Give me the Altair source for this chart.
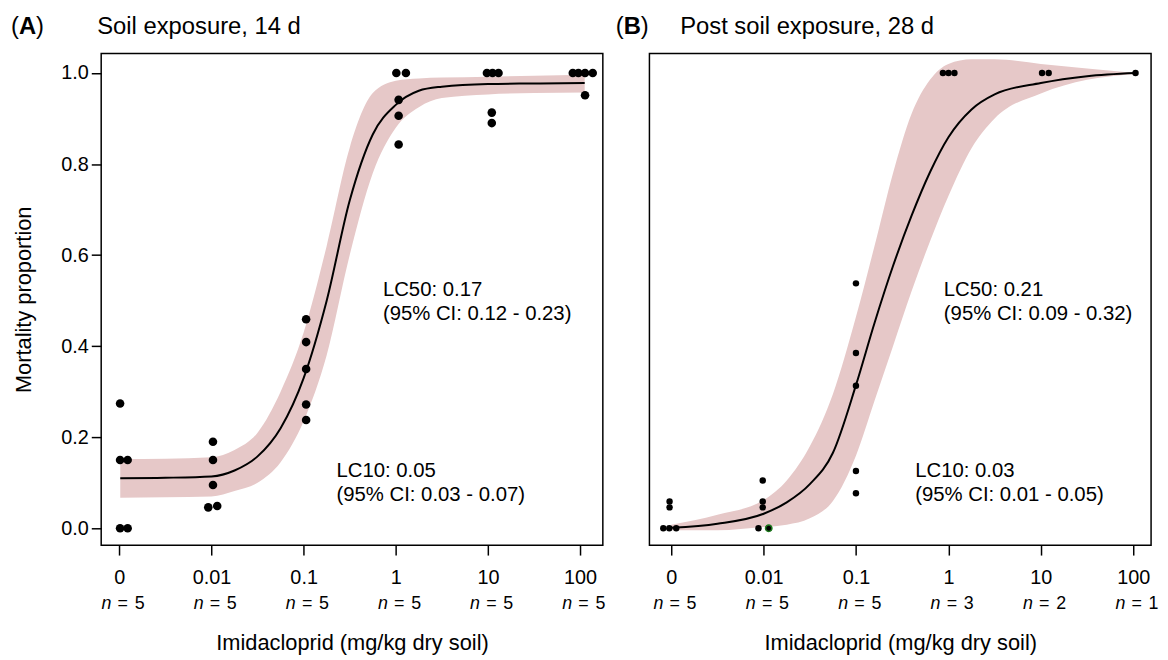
import altair as alt
import pandas as pd

# ---------------- data ----------------
# x positions are log10(dose); the untreated control ("0") is drawn at 10^-3
tick_pos = [-3, -2, -1, 0, 1, 2]
tick_lab = ["0", "0.01", "0.1", "1", "10", "100"]
y_ticks = [0.0, 0.2, 0.4, 0.6, 0.8, 1.0]
n_A = [5, 5, 5, 5, 5, 5]
n_B = [5, 5, 5, 3, 2, 1]

# Panel A observations (log10 dose as plotted, mortality proportion)
A_x = [-2.992, -2.992, -2.910, -2.992, -2.910,
       -1.984, -1.984, -1.984, -2.035, -1.938,
       -0.973, -0.973, -0.973, -0.973, -0.973,
       0.006, 0.110, 0.031, 0.031, 0.031,
       0.989, 1.050, 1.115, 1.042, 1.042,
       1.921, 1.982, 2.054, 2.137, 2.054]
A_y = [0.274, 0.150, 0.150, 0.0, 0.0,
       0.190, 0.150, 0.095, 0.046, 0.049,
       0.459, 0.409, 0.350, 0.272, 0.238,
       1.0, 1.0, 0.941, 0.906, 0.843,
       1.0, 1.0, 1.0, 0.913, 0.890,
       1.0, 1.0, 1.0, 1.0, 0.951]

# Panel B observations
B_x = [-3.086, -3.021, -2.946, -3.018, -3.018,
       -2.010, -2.010, -2.010, -2.056, -1.945,
       -1.001, -1.001, -1.001, -1.001, -1.001,
       -0.060, 0.001, 0.065,
       1.013, 1.085,
       2.025]
B_y = [0.0, 0.0, 0.0, 0.059, 0.046,
       0.105, 0.059, 0.046, 0.0, 0.0,
       0.538, 0.385, 0.313, 0.126, 0.077,
       1.0, 1.0, 1.0,
       1.0, 1.0,
       1.0]
B_edge = [0, 0, 0, 0, 0,
          0, 0, 0, 0, 1,
          0, 0, 0, 0, 0,
          0, 0, 0,
          0, 0,
          0]

# Fitted curve and 95% band
A_cx = [-2.99, -2.5, -2.0, -1.75, -1.5, -1.25, -1.0, -0.75, -0.5, -0.25,
        0.0, 0.25, 0.5, 1.0, 1.5, 2.05]
A_fit = [0.110, 0.111, 0.114, 0.127, 0.158, 0.220, 0.330, 0.500, 0.720, 0.865,
         0.930, 0.961, 0.970, 0.976, 0.977, 0.978]
A_lo = [0.067, 0.068, 0.070, 0.082, 0.100, 0.145, 0.235, 0.380, 0.600, 0.780,
        0.880, 0.925, 0.945, 0.953, 0.956, 0.957]
A_hi = [0.152, 0.153, 0.156, 0.172, 0.210, 0.300, 0.430, 0.620, 0.836, 0.956,
        0.983, 0.988, 0.990, 0.992, 0.994, 0.996]

B_cx = [-3.0, -2.5, -2.0, -1.75, -1.5, -1.25, -1.0, -0.8, -0.6, -0.4, -0.2,
        0.0, 0.25, 0.5, 1.0, 1.5, 2.025]
B_fit = [0.001, 0.010, 0.032, 0.057, 0.097, 0.166, 0.315, 0.451, 0.576, 0.686, 0.782,
         0.859, 0.920, 0.953, 0.978, 0.993, 1.0]
B_lo = [-0.004, -0.004, 0.003, 0.008, 0.022, 0.060, 0.160, 0.280, 0.400, 0.520, 0.630,
        0.730, 0.835, 0.900, 0.955, 0.985, 0.998]
B_hi = [0.008, 0.030, 0.062, 0.105, 0.180, 0.295, 0.465, 0.620, 0.780, 0.910, 0.985,
        1.020, 1.030, 1.030, 1.020, 1.010, 1.0]

# Annotations (left x in log10 dose, baseline y in proportion)
A_ann_x = [-0.14, -0.14, -0.644, -0.644]
A_ann_y = [0.510, 0.457, 0.1126, 0.0603]
A_ann_t = ["LC50: 0.17", "(95% CI: 0.12 - 0.23)", "LC10: 0.05", "(95% CI: 0.03 - 0.07)"]
B_ann_x = [-0.05, -0.05, -0.36, -0.36]
B_ann_y = [0.510, 0.457, 0.1126, 0.0603]
B_ann_t = ["LC50: 0.21", "(95% CI: 0.09 - 0.32)", "LC10: 0.03", "(95% CI: 0.01 - 0.05)"]

tags = ["A", "B"]
titles = ["Soil exposure, 14 d", "Post soil exposure, 28 d"]
x_title = "Imidacloprid (mg/kg dry soil)"
y_title = "Mortality proportion"

# ---------------- styling ----------------
FONT = "Liberation Sans"
BAND = "#E6C8C8"
H = 496
YDOM = [-0.037, 1.043]
TFS = 24
TY = -20
AXT = 22

label_expr = " : ".join(
    [f"datum.value == {p} ? '{l}'" for p, l in zip(tick_pos, tick_lab)]
) + " : ''"


def panel(px, py, edge, cx, fit, lo, hi, ax, ay, at, nvals, xdom, width,
          psize, show_y, tag, title, tag_x, title_x):
    xs = alt.Scale(domain=xdom, nice=False, zero=False)
    ys = alt.Scale(domain=YDOM, nice=False, zero=False)
    xaxis = alt.Axis(values=tick_pos, labelExpr=label_expr, title=x_title,
                     grid=False, domain=False, tickSize=10, tickWidth=1.5,
                     tickColor="black", labelPadding=13, labelFontSize=20,
                     labelColor="black", titleFontSize=AXT, titleFontWeight="normal",
                     titleColor="black", titlePadding=45, labelFont=FONT,
                     titleFont=FONT)
    if show_y:
        yenc = alt.Y("lo:Q", scale=ys, axis=alt.Axis(
            values=y_ticks, format=".1f", title=y_title, grid=False, domain=False,
            tickSize=10, tickWidth=1.5, tickColor="black", labelPadding=3,
            labelFontSize=20, labelColor="black", titleFontSize=AXT,
            titleFontWeight="normal", titleColor="black", titlePadding=25,
            labelFont=FONT, titleFont=FONT))
    else:
        yenc = alt.Y("lo:Q", scale=ys, axis=None)

    cdf = pd.DataFrame({"x": cx, "fit": fit, "lo": lo, "hi": hi})
    pdf = pd.DataFrame({"x": px, "y": py, "edge": edge})
    adf = pd.DataFrame({"x": ax, "y": ay, "t": at})
    ndf = pd.DataFrame({"x": tick_pos, "n": [str(v) for v in nvals]})

    band = alt.Chart(cdf).mark_area(color=BAND, interpolate="monotone").encode(
        x=alt.X("x:Q", scale=xs, axis=xaxis), y=yenc, y2="hi:Q")
    line = alt.Chart(cdf).mark_line(color="black", strokeWidth=2,
                                    interpolate="monotone").encode(
        x=alt.X("x:Q", scale=xs), y=alt.Y("fit:Q", scale=ys))
    pts = alt.Chart(pdf).mark_circle(color="black", opacity=1, size=psize).encode(
        x=alt.X("x:Q", scale=xs), y=alt.Y("y:Q", scale=ys))
    edged = alt.Chart(pdf).transform_filter("datum.edge == 1").mark_circle(
        color="black", opacity=1, size=psize, stroke="#1E7B1E",
        strokeWidth=1.5).encode(x=alt.X("x:Q", scale=xs), y=alt.Y("y:Q", scale=ys))
    ann = alt.Chart(adf).mark_text(align="left", baseline="alphabetic",
                                   font=FONT, fontSize=20.5, color="black").encode(
        x=alt.X("x:Q", scale=xs), y=alt.Y("y:Q", scale=ys), text="t:N")
    n_it = alt.Chart(ndf).mark_text(align="right", baseline="alphabetic", font=FONT,
                                    fontSize=18, fontStyle="italic", dx=-8,
                                    color="black").encode(
        x=alt.X("x:Q", scale=xs), y=alt.value(H + 64), text=alt.value("n"))
    n_eq = alt.Chart(ndf).mark_text(align="center", baseline="alphabetic", font=FONT,
                                    fontSize=18, dx=3.5, color="black").encode(
        x=alt.X("x:Q", scale=xs), y=alt.value(H + 64), text=alt.value("="))
    n_v = alt.Chart(ndf).mark_text(align="left", baseline="alphabetic", font=FONT,
                                   fontSize=18, dx=15.5, color="black").encode(
        x=alt.X("x:Q", scale=xs), y=alt.value(H + 64), text="n:N")

    tdf = pd.DataFrame({"t": [title]})
    ttl = alt.Chart(tdf).mark_text(align="left", baseline="alphabetic", font=FONT,
                                   fontSize=TFS, color="black").encode(
        x=alt.value(title_x), y=alt.value(TY), text="t:N")
    p1 = alt.Chart(tdf).mark_text(align="left", baseline="alphabetic", font=FONT,
                                  fontSize=TFS, color="black").encode(
        x=alt.value(tag_x), y=alt.value(TY), text=alt.value("("))
    p2 = alt.Chart(tdf).mark_text(align="left", baseline="alphabetic", font=FONT,
                                  fontSize=TFS, fontWeight="bold", color="black").encode(
        x=alt.value(tag_x + 0.333 * TFS), y=alt.value(TY), text=alt.value(tag))
    p3 = alt.Chart(tdf).mark_text(align="left", baseline="alphabetic", font=FONT,
                                  fontSize=TFS, color="black").encode(
        x=alt.value(tag_x + 1.055 * TFS), y=alt.value(TY), text=alt.value(")"))

    return alt.layer(band, line, pts, edged, ann, n_it, n_eq, n_v, ttl, p1, p2, p3
                     ).properties(width=width, height=H)


pA = panel(A_x, A_y, [0] * len(A_x), A_cx, A_fit, A_lo, A_hi,
           A_ann_x, A_ann_y, A_ann_t, n_A, [-3.197, 2.247], 506, 75, True,
           tags[0], titles[0], -91, -4)
pB = panel(B_x, B_y, B_edge, B_cx, B_fit, B_lo, B_hi,
           B_ann_x, B_ann_y, B_ann_t, n_B, [-3.236, 2.193], 506, 42, False,
           tags[1], titles[1], -34, 31)

chart = alt.hconcat(pA, pB, spacing=47, bounds="flush").properties(
    padding={"left": 2, "top": 3, "right": 0, "bottom": 0}
).configure(
    font=FONT,
    view=alt.ViewConfig(stroke="black", strokeWidth=1.5),
)

chart.save("out.html", embed_options={"renderer": "svg", "actions": False})
